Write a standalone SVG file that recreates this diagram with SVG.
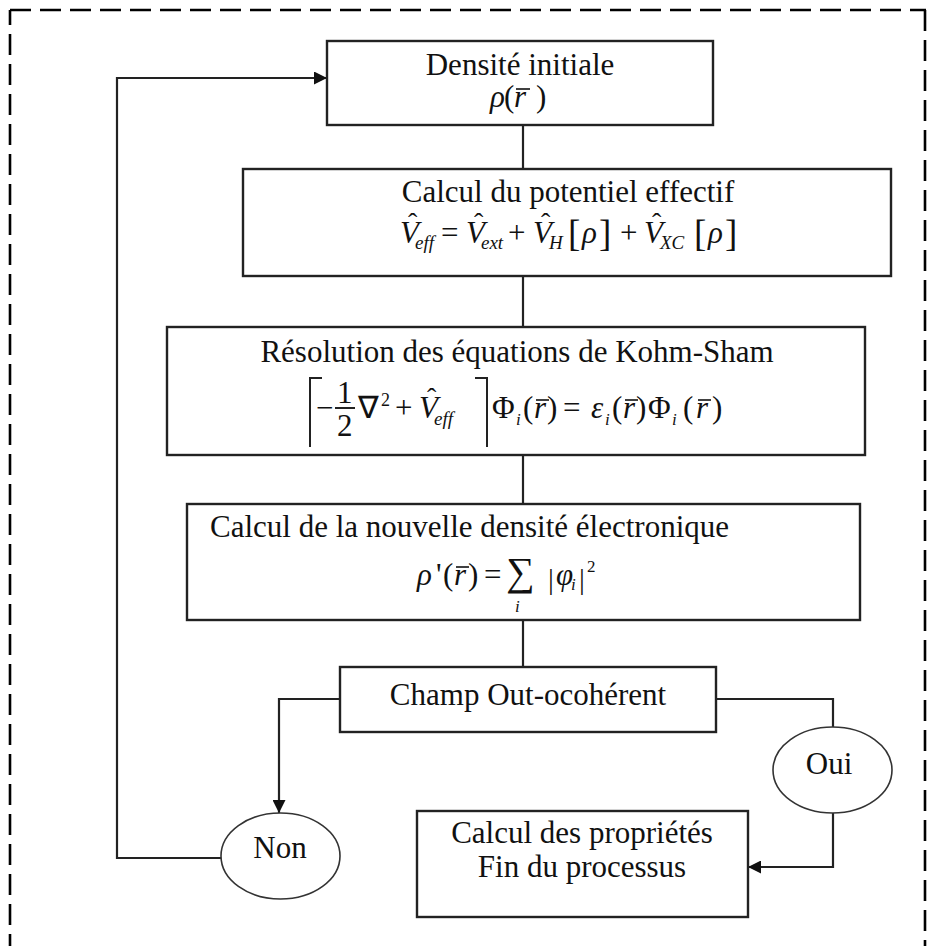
<svg xmlns="http://www.w3.org/2000/svg" width="930" height="946" viewBox="0 0 930 946">
<defs>
<style>
.frame{stroke:#000;stroke-width:2.6;fill:none;stroke-dasharray:21 9}
.box{fill:#fff;stroke:#222;stroke-width:2.4}
.oval{fill:#fff;stroke:#333;stroke-width:1.6}
.ln{fill:none;stroke:#222;stroke-width:2.2}
.br{fill:none;stroke:#222;stroke-width:2}
.vec{stroke:#111;stroke-width:1.6}
.t{font-family:"Liberation Serif","Times New Roman",serif;font-size:31px;fill:#111}
.c{text-anchor:middle}
.i{font-style:italic}
.sub{font-size:19px;font-style:italic}
.sm{font-size:17px;font-style:italic}
.hat{font-size:28px;font-style:normal}
</style>
<marker id="ah" viewBox="0 0 13 13" markerWidth="13" markerHeight="13" refX="13" refY="6.5" orient="auto" markerUnits="userSpaceOnUse">
<path d="M0,0 L13,6.5 L0,13 z" fill="#111"/>
</marker>
</defs>
<rect width="930" height="946" fill="#fff"/>
<g id="frame">
<line class="frame" x1="10" y1="10" x2="926" y2="10"/>
<line class="frame" x1="10" y1="10" x2="10" y2="946" stroke-dashoffset="6"/>
<line class="frame" x1="925" y1="10" x2="925" y2="946"/>
</g>
<g id="connectors">
<line class="ln" x1="523" y1="125" x2="523" y2="169"/>
<line class="ln" x1="523" y1="276" x2="523" y2="327"/>
<line class="ln" x1="523" y1="455" x2="523" y2="504"/>
<line class="ln" x1="523" y1="620" x2="523" y2="667"/>
<polyline class="ln" points="340,699 279,699 279,813" marker-end="url(#ah)"/>
<polyline class="ln" points="221,858 117,858 117,78 327,78" marker-end="url(#ah)"/>
<polyline class="ln" points="716,699 833,699 833,727"/>
<polyline class="ln" points="833,813 833,867 748,867" marker-end="url(#ah)"/>
</g>
<g id="densite-initiale">
<rect class="box" x="327" y="41" width="386" height="84"/>
<text class="t c" x="520" y="75">Densité initiale</text>
<text class="t"><tspan class="i" x="490" y="107">ρ</tspan><tspan x="504" y="107">(</tspan><tspan class="i" x="514" y="107">r</tspan><tspan x="536" y="107">)</tspan></text>
<line class="vec" x1="516" y1="89" x2="530" y2="89"/>
</g>
<g id="potentiel-effectif">
<rect class="box" x="243" y="169" width="648" height="107"/>
<text class="t c" x="568" y="202">Calcul du potentiel effectif</text>
<text class="t">
<tspan class="i" x="400" y="243">V</tspan><tspan class="hat" x="408" y="232">ˆ</tspan><tspan class="sub" x="415" y="249">eff</tspan>
<tspan x="441" y="243">=</tspan>
<tspan class="i" x="466" y="243">V</tspan><tspan class="hat" x="474" y="232">ˆ</tspan><tspan class="sub" x="481" y="249">ext</tspan>
<tspan x="508" y="243">+</tspan>
<tspan class="i" x="533" y="243">V</tspan><tspan class="hat" x="541" y="232">ˆ</tspan><tspan class="sub" x="549" y="249">H</tspan>
<tspan x="568" y="246" font-size="37">[</tspan><tspan class="i" x="582" y="243">ρ</tspan><tspan x="599" y="246" font-size="37">]</tspan>
<tspan x="620" y="243">+</tspan>
<tspan class="i" x="644" y="243">V</tspan><tspan class="hat" x="652" y="232">ˆ</tspan><tspan class="sub" x="660" y="249">XC</tspan>
<tspan x="694" y="246" font-size="37">[</tspan><tspan class="i" x="708" y="243">ρ</tspan><tspan x="725" y="246" font-size="37">]</tspan>
</text>
</g>
<g id="kohn-sham">
<rect class="box" x="167" y="327" width="698" height="128"/>
<text class="t c" x="517" y="362">Résolution des équations de Kohm-Sham</text>
<polyline class="br" points="322,378 310,378 310,447"/>
<polyline class="br" points="475,378 487,378 487,447"/>
<line class="br" x1="335" y1="408" x2="355" y2="408"/>
<text class="t">
<tspan x="316" y="418">−</tspan>
<tspan x="337" y="403">1</tspan>
<tspan x="337" y="436">2</tspan>
<tspan x="358" y="418">∇</tspan><tspan font-size="18" x="381" y="406">2</tspan>
<tspan x="395" y="418">+</tspan>
<tspan class="i" x="419" y="418">V</tspan><tspan class="hat" x="427" y="407">ˆ</tspan><tspan class="sub" x="434" y="425">eff</tspan>
<tspan x="492" y="418">Φ</tspan><tspan class="sm" x="516" y="425">i</tspan>
<tspan x="523" y="418">(</tspan><tspan class="i" x="534" y="418">r</tspan><tspan x="547" y="418">)</tspan>
<tspan x="563" y="418">=</tspan>
<tspan class="i" x="591" y="418">ε</tspan><tspan class="sm" x="605" y="425">i</tspan>
<tspan x="612" y="418">(</tspan><tspan class="i" x="623" y="418">r</tspan><tspan x="636" y="418">)</tspan>
<tspan x="648" y="418">Φ</tspan><tspan class="sm" x="672" y="425">i</tspan>
<tspan x="683" y="418">(</tspan><tspan class="i" x="696" y="418">r</tspan><tspan x="712" y="418">)</tspan>
</text>
<line class="vec" x1="536" y1="400" x2="549" y2="400"/>
<line class="vec" x1="625" y1="400" x2="638" y2="400"/>
<line class="vec" x1="698" y1="400" x2="711" y2="400"/>
</g>
<g id="nouvelle-densite">
<rect class="box" x="187" y="504" width="673" height="116"/>
<text class="t" x="210" y="537">Calcul de la nouvelle densité électronique</text>
<text class="t">
<tspan class="i" x="417" y="585">ρ</tspan><tspan x="436" y="585">'</tspan>
<tspan x="443" y="585">(</tspan><tspan class="i" x="454" y="585">r</tspan><tspan x="468" y="585">)</tspan>
<tspan x="484" y="585">=</tspan>
<tspan font-size="40" x="506" y="585">∑</tspan>
<tspan class="sm" font-size="15" x="515" y="612">i</tspan>
<tspan font-size="29" x="548" y="589">|</tspan><tspan class="i" x="556" y="585">φ</tspan><tspan class="sm" font-size="14" x="571" y="590">i</tspan><tspan font-size="29" x="579" y="589">|</tspan>
<tspan font-size="17" x="587" y="572">2</tspan>
</text>
<line class="vec" x1="456" y1="567" x2="469" y2="567"/>
</g>
<g id="champ-coherent">
<rect class="box" x="340" y="667" width="376" height="65"/>
<text class="t c" x="528" y="705">Champ Out-ocohérent</text>
</g>
<g id="non">
<ellipse class="oval" cx="280.5" cy="856" rx="59.5" ry="43"/>
<text class="t c" x="280" y="858">Non</text>
</g>
<g id="oui">
<ellipse class="oval" cx="832.5" cy="770" rx="59.5" ry="43"/>
<text class="t c" x="829" y="774">Oui</text>
</g>
<g id="proprietes">
<rect class="box" x="417" y="811" width="331" height="106"/>
<text class="t c" x="582" y="843">Calcul des propriétés</text>
<text class="t c" x="582" y="877">Fin du processus</text>
</g>
</svg>
